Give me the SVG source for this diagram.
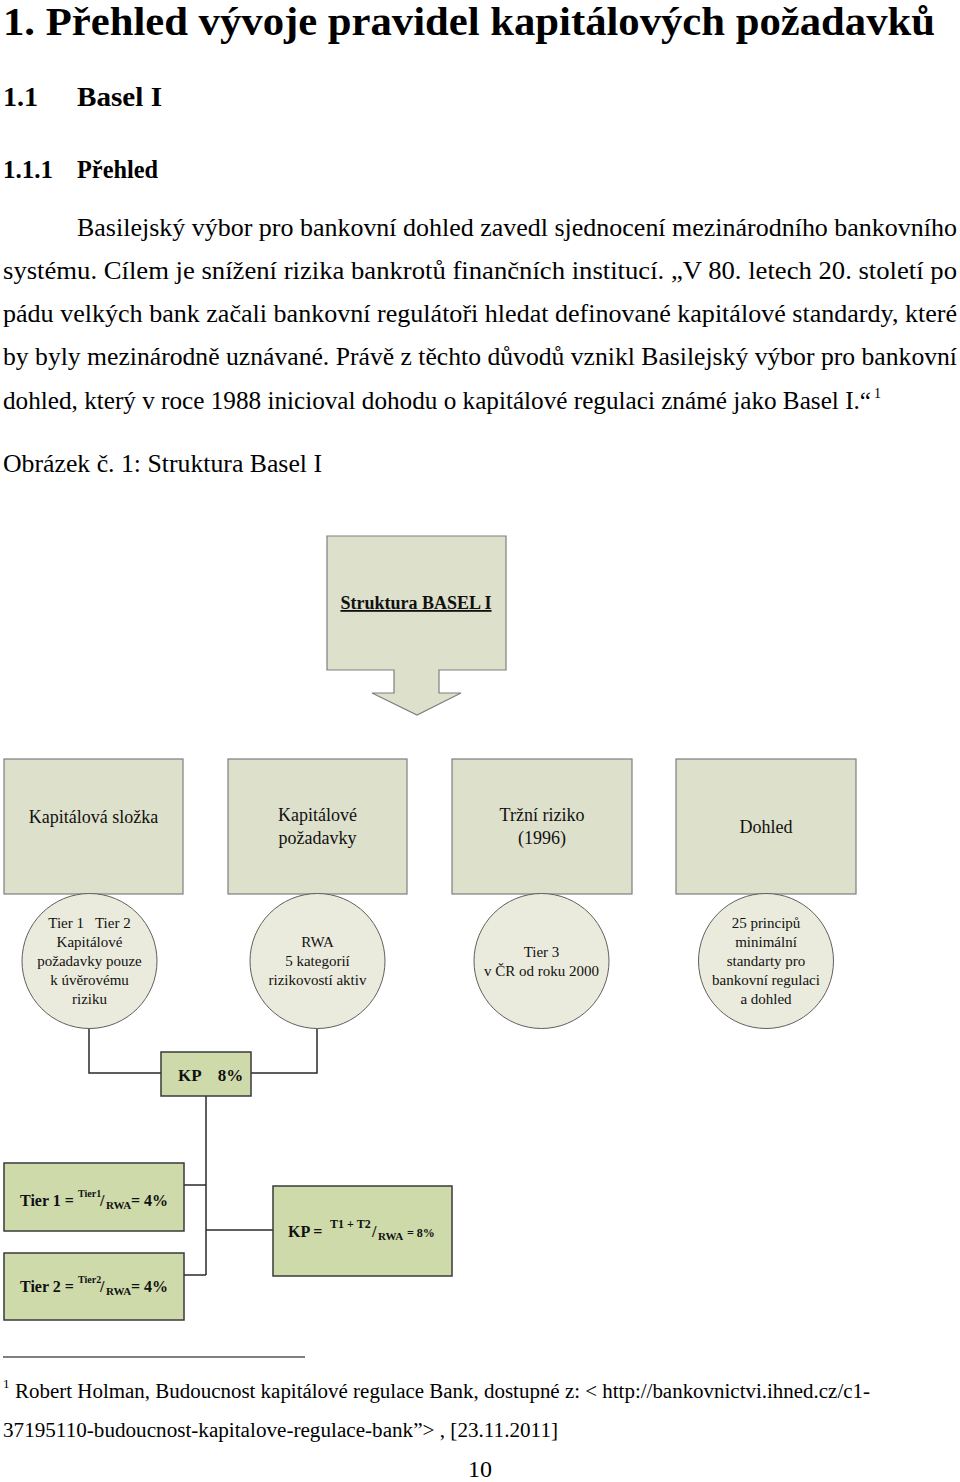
<svg xmlns="http://www.w3.org/2000/svg" width="960" height="1482" viewBox="0 0 960 1482">
<style>
.page{font-family:"Liberation Serif","Times New Roman",serif;fill:#000}
.h1{font-size:40px;font-weight:bold}
.h2{font-size:28px;font-weight:bold}
.h3{font-size:25px;font-weight:bold}
.p{font-size:25px}
.fn{font-size:20px}
.box{fill:#dde0cb;stroke:#7f7f7f;stroke-width:1.2}
.circ{fill:#eaebdc;stroke:#5f5f5f;stroke-width:1}
.kp{fill:#cfdaab;stroke:#3a3a3a;stroke-width:1.5}
.lbl{font-family:"Liberation Serif","Times New Roman",serif;font-size:18px;fill:#111;text-anchor:middle}
.cl{font-family:"Liberation Serif","Times New Roman",serif;font-size:15px;fill:#111;text-anchor:middle}
.bf{font-family:"Liberation Serif","Times New Roman",serif;font-weight:bold;fill:#111}
.conn{fill:none;stroke:#2a2a2a;stroke-width:1.5}
</style>

<g id="page-text" class="page">
<text class="h1" x="3" y="35" textLength="932" lengthAdjust="spacingAndGlyphs">1.  Přehled vývoje pravidel kapitálových požadavků</text>
<text class="h2" x="3" y="106">1.1</text>
<text class="h2" x="77" y="106" textLength="85" lengthAdjust="spacingAndGlyphs">Basel I</text>
<text class="h3" x="3" y="178" textLength="50" lengthAdjust="spacingAndGlyphs">1.1.1</text>
<text class="h3" x="77" y="178" textLength="81" lengthAdjust="spacingAndGlyphs">Přehled</text>
<text class="p" x="77" y="236" textLength="880" lengthAdjust="spacingAndGlyphs">Basilejský výbor pro bankovní dohled zavedl sjednocení mezinárodního bankovního</text>
<text class="p" x="3" y="279" textLength="954" lengthAdjust="spacingAndGlyphs">systému.  Cílem je snížení rizika bankrotů finančních institucí. „V 80. letech 20. století po</text>
<text class="p" x="3" y="322" textLength="954" lengthAdjust="spacingAndGlyphs">pádu velkých bank začali bankovní regulátoři hledat definované kapitálové standardy, které</text>
<text class="p" x="3" y="365" textLength="954" lengthAdjust="spacingAndGlyphs">by byly mezinárodně uznávané. Právě z těchto důvodů vznikl Basilejský výbor pro bankovní</text>
<text class="p" x="3" y="409" textLength="868" lengthAdjust="spacingAndGlyphs">dohled, který v roce 1988 inicioval dohodu o kapitálové regulaci známé jako Basel I.“</text>
<text x="874" y="398" style="font-size:14px">1</text>
<text class="p" x="3" y="472" textLength="319" lengthAdjust="spacingAndGlyphs">Obrázek č. 1:  Struktura Basel I</text>
</g>

<g id="connectors">
<polyline class="conn" points="89,1028 89,1073 161,1073"/>
<polyline class="conn" points="317,1028 317,1073 251,1073"/>
<line class="conn" x1="206" y1="1096" x2="206" y2="1275"/>
<line class="conn" x1="184" y1="1185" x2="206" y2="1185"/>
<line class="conn" x1="184" y1="1275" x2="206" y2="1275"/>
<line class="conn" x1="206" y1="1230" x2="273" y2="1230"/>
</g>

<g id="struktura">
<path class="box" d="M327,536 H506 V670 H439 V693 H461 L417,715 L372,693 H394 V670 H327 Z"/>
<text class="bf" x="416" y="609" text-anchor="middle" style="font-size:18px;text-decoration:underline">Struktura BASEL I</text>
</g>

<g id="kapitalova-slozka">
<rect class="box" x="4" y="759" width="179" height="135"/>
<text class="lbl" x="93.5" y="823">Kapitálová složka</text>
</g>
<g id="kapitalove-pozadavky">
<rect class="box" x="228" y="759" width="179" height="135"/>
<text class="lbl" x="317.5" y="821">Kapitálové</text>
<text class="lbl" x="317.5" y="844">požadavky</text>
</g>
<g id="trzni-riziko">
<rect class="box" x="452" y="759" width="180" height="135"/>
<text class="lbl" x="542" y="821">Tržní riziko</text>
<text class="lbl" x="542" y="844">(1996)</text>
</g>
<g id="dohled">
<rect class="box" x="676" y="759" width="180" height="135"/>
<text class="lbl" x="766" y="833">Dohled</text>
</g>

<g id="circle-tier">
<circle class="circ" cx="89.5" cy="961" r="67.5"/>
<text class="cl" x="89.5" y="928" xml:space="preserve">Tier 1   Tier 2</text>
<text class="cl" x="89.5" y="947">Kapitálové</text>
<text class="cl" x="89.5" y="966">požadavky pouze</text>
<text class="cl" x="89.5" y="985">k úvěrovému</text>
<text class="cl" x="89.5" y="1004">riziku</text>
</g>
<g id="circle-rwa">
<circle class="circ" cx="317.5" cy="961" r="67.5"/>
<text class="cl" x="317.5" y="947">RWA</text>
<text class="cl" x="317.5" y="966">5 kategorií</text>
<text class="cl" x="317.5" y="985">rizikovostí aktiv</text>
</g>
<g id="circle-tier3">
<circle class="circ" cx="541.5" cy="961" r="67.5"/>
<text class="cl" x="541.5" y="957">Tier 3</text>
<text class="cl" x="541.5" y="976">v ČR od roku 2000</text>
</g>
<g id="circle-principy">
<circle class="circ" cx="766" cy="961" r="67.5"/>
<text class="cl" x="766" y="928">25 principů</text>
<text class="cl" x="766" y="947">minimální</text>
<text class="cl" x="766" y="966">standarty pro</text>
<text class="cl" x="766" y="985">bankovní regulaci</text>
<text class="cl" x="766" y="1004">a dohled</text>
</g>

<g id="kp-8">
<rect class="kp" x="161" y="1052" width="90" height="44"/>
<text class="bf" x="178" y="1081" style="font-size:17px" xml:space="preserve">KP    8%</text>
</g>

<g id="tier1-formula">
<rect class="kp" x="4" y="1163" width="180" height="68"/>
<text class="bf" x="20" y="1206" style="font-size:16px">Tier 1 = <tspan x="78" y="1197" style="font-size:10px">Tier1</tspan><tspan x="100" y="1206" style="font-size:16px">/</tspan><tspan x="106" y="1209" style="font-size:11px">RWA</tspan><tspan x="131" y="1206" style="font-size:16px">= 4%</tspan></text>
</g>
<g id="tier2-formula">
<rect class="kp" x="4" y="1253" width="180" height="67"/>
<text class="bf" x="20" y="1292" style="font-size:16px">Tier 2 = <tspan x="78" y="1283" style="font-size:10px">Tier2</tspan><tspan x="100" y="1292" style="font-size:16px">/</tspan><tspan x="106" y="1295" style="font-size:11px">RWA</tspan><tspan x="131" y="1292" style="font-size:16px">= 4%</tspan></text>
</g>
<g id="kp-formula">
<rect class="kp" x="273" y="1186" width="179" height="90"/>
<text class="bf" x="288" y="1237" style="font-size:16px">KP = <tspan x="330" y="1228" style="font-size:12px">T1 + T2</tspan><tspan x="372" y="1237" style="font-size:16px">/</tspan><tspan x="378" y="1240" style="font-size:11px">RWA</tspan><tspan x="407" y="1237" style="font-size:12px">= 8%</tspan></text>
</g>

<g id="footnote" class="page">
<line x1="3" y1="1357" x2="305" y2="1357" stroke="#000" stroke-width="1.2"/>
<text x="3" y="1388" style="font-size:13px">1</text>
<text class="fn" x="15" y="1398" textLength="855" lengthAdjust="spacingAndGlyphs">Robert Holman, Budoucnost kapitálové regulace Bank, dostupné z: &lt; http://bankovnictvi.ihned.cz/c1-</text>
<text class="fn" x="3" y="1437" textLength="555" lengthAdjust="spacingAndGlyphs">37195110-budoucnost-kapitalove-regulace-bank”&gt; , [23.11.2011]</text>
<text x="480" y="1477" text-anchor="middle" style="font-size:24px">10</text>
</g>
</svg>
